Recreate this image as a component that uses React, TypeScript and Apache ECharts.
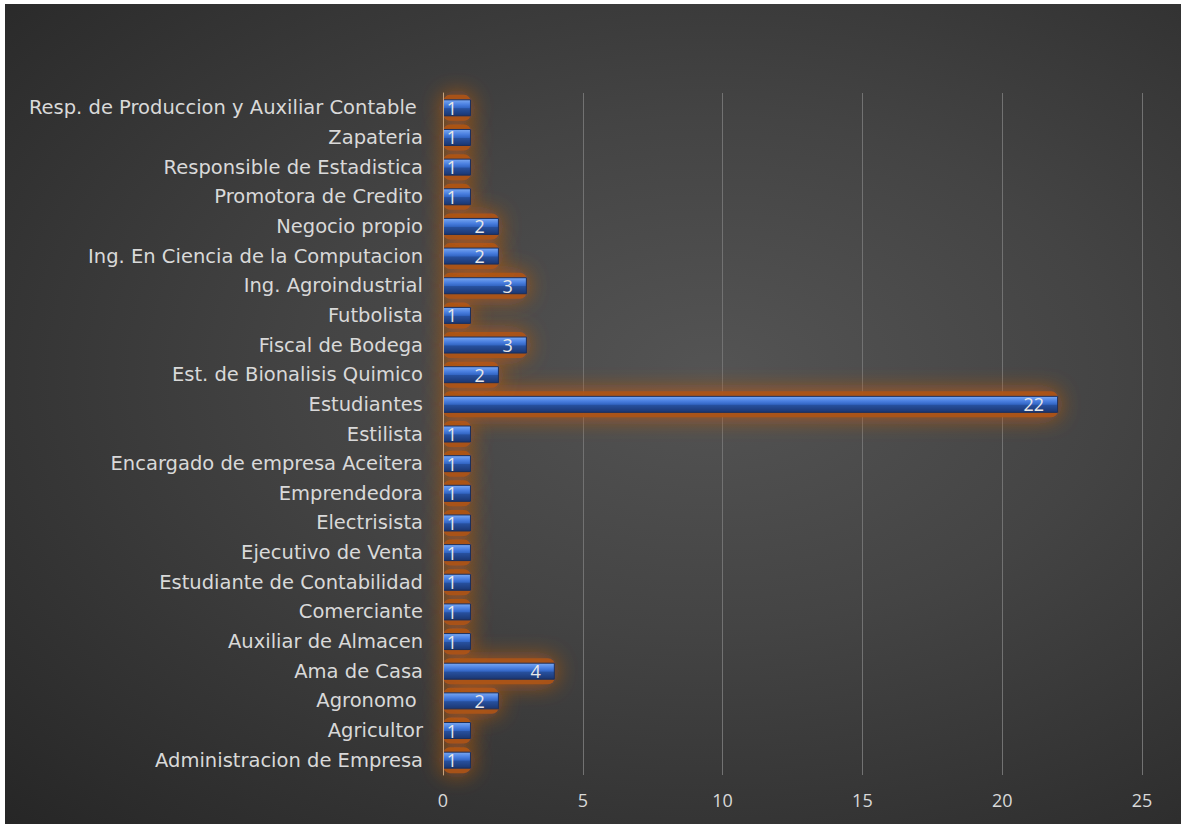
import React, { useEffect, useRef } from "react";
import * as echarts from "echarts";

const categories = [
  "Administracion de Empresa",
  "Agricultor",
  "Agronomo ",
  "Ama de Casa",
  "Auxiliar de Almacen",
  "Comerciante",
  "Estudiante de Contabilidad",
  "Ejecutivo de Venta",
  "Electrisista",
  "Emprendedora",
  "Encargado de empresa Aceitera",
  "Estilista",
  "Estudiantes",
  "Est. de Bionalisis Quimico",
  "Fiscal de Bodega",
  "Futbolista",
  "Ing. Agroindustrial",
  "Ing. En Ciencia de la Computacion",
  "Negocio propio",
  "Promotora de Credito",
  "Responsible de Estadistica",
  "Zapateria",
  "Resp. de Produccion y Auxiliar Contable ",
];

const values = [1, 1, 2, 4, 1, 1, 1, 1, 1, 1, 1, 1, 22, 2, 3, 1, 3, 2, 2, 1, 1, 1, 1];

const xTicks = { min: 0, max: 25, interval: 5 };

const FONT = "'DejaVu Sans', 'Open Sans', sans-serif";
const FONT2 = "'Open Sans', 'Noto Sans', sans-serif";

export default function App() {
  const ref = useRef<HTMLDivElement>(null);
  useEffect(() => {
    if (!ref.current) return;
    const chart = echarts.init(ref.current, null, { renderer: "svg" });
    const gridBox = { left: 438, right: 39, top: 89, bottom: 49, containLabel: false };
    chart.setOption({
      animation: false,
      backgroundColor: "transparent",
      grid: [gridBox, { ...gridBox }],
      xAxis: [
        {
          type: "value",
          gridIndex: 0,
          min: xTicks.min,
          max: xTicks.max,
          interval: xTicks.interval,
          axisLine: { show: false },
          axisTick: { show: false },
          axisLabel: { color: "#d9d9d9", fontSize: 18, fontFamily: FONT2, margin: 16 },
          splitLine: { show: true, lineStyle: { color: "#727272", width: 1 } },
        },
        {
          type: "value",
          gridIndex: 1,
          min: xTicks.min,
          max: xTicks.max,
          interval: xTicks.interval,
          show: false,
          splitLine: { show: false },
        },
      ],
      yAxis: [
        {
          type: "category",
          gridIndex: 0,
          data: categories,
          z: 5,
          axisLine: { show: true, lineStyle: { color: "#c9a37c", width: 1 } },
          axisTick: { show: false },
          axisLabel: { color: "#d9d9d9", fontSize: 19.5, fontFamily: FONT, margin: 20 },
        },
        {
          type: "category",
          gridIndex: 1,
          data: categories,
          show: false,
        },
      ],
      series: [
        {
          type: "bar",
          xAxisIndex: 1,
          yAxisIndex: 1,
          data: values,
          barWidth: 26,
          z: 1,
          silent: true,
          itemStyle: {
            color: "rgba(172,84,24,0.92)",
            borderRadius: 7,
            shadowColor: "rgba(185,90,22,1)",
            shadowBlur: 22,
          },
        },
        {
          type: "bar",
          data: values,
          barWidth: 17,
          z: 3,
          itemStyle: {
            color: new echarts.graphic.LinearGradient(0, 0, 0, 1, [
              { offset: 0, color: "#7aa8f2" },
              { offset: 0.3, color: "#4a7fe0" },
              { offset: 0.5, color: "#3366c4" },
              { offset: 0.55, color: "#27509e" },
              { offset: 1, color: "#1b3670" },
            ]),
            borderColor: "#1a2f5e",
            borderWidth: 1,
          },
          label: {
            show: true,
            position: "insideRight",
            distance: 14,
            color: "#e8e8e8",
            fontSize: 18,
            fontFamily: FONT2,
          },
        },
      ],
    });
    return () => chart.dispose();
  }, []);
  return (
    <div
      style={{
        position: "absolute",
        left: 5,
        top: 4,
        width: 1176,
        height: 820,
        background:
          "radial-gradient(ellipse at 60% 45%, #545454 0%, #444444 40%, #303030 80%, #262626 100%)",
      }}
    >
      <div ref={ref} style={{ width: 1176, height: 820 }} />
    </div>
  );
}
